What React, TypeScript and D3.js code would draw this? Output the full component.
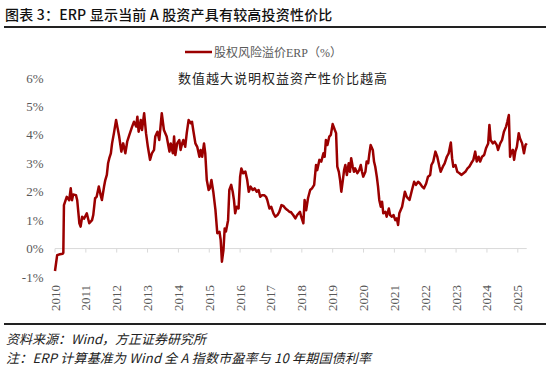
import React from "react";
import * as d3 from "d3";

const title = "图表 3：ERP 显示当前 A 股资产具有较高投资性价比";
const legendLabel = "股权风险溢价ERP（%）";
const annotation = "数值越大说明权益资产性价比越高";
const sourceText = "资料来源：Wind，方正证券研究所";
const noteText = "注：ERP 计算基准为 Wind 全 A 指数市盈率与 10 年期国债利率";

const yearTicks = [2010, 2011, 2012, 2013, 2014, 2015, 2016, 2017, 2018, 2019, 2020, 2021, 2022, 2023, 2024, 2025];
const yTicks = [-1, 0, 1, 2, 3, 4, 5, 6];

// decimal year
const dates = [
  2010.00, 2010.07, 2010.16, 2010.25, 2010.27, 2010.29, 2010.38, 2010.46, 2010.51, 2010.55,
  2010.59, 2010.68, 2010.72, 2010.79, 2010.83, 2010.88, 2010.94, 2011.03, 2011.11, 2011.20,
  2011.24, 2011.30, 2011.35, 2011.42, 2011.48, 2011.52, 2011.59, 2011.63, 2011.68, 2011.72,
  2011.76, 2011.81, 2011.85, 2011.91, 2011.98, 2012.02, 2012.08, 2012.15, 2012.21, 2012.28,
  2012.34, 2012.41, 2012.50, 2012.56, 2012.63, 2012.67, 2012.71, 2012.78, 2012.82, 2012.89,
  2012.95, 2013.01, 2013.08, 2013.14, 2013.21, 2013.25, 2013.32, 2013.38, 2013.46, 2013.53,
  2013.62, 2013.71, 2013.75, 2013.82, 2013.86, 2013.90, 2013.96, 2014.03, 2014.07, 2014.12,
  2014.16, 2014.22, 2014.27, 2014.33, 2014.40, 2014.44, 2014.48, 2014.55, 2014.61, 2014.68,
  2014.72, 2014.77, 2014.83, 2014.87, 2014.92, 2014.98, 2015.02, 2015.07, 2015.13, 2015.20,
  2015.26, 2015.33, 2015.37, 2015.41, 2015.46, 2015.50, 2015.54, 2015.61, 2015.65, 2015.71,
  2015.76, 2015.80, 2015.84, 2015.89, 2015.95, 2016.00, 2016.04, 2016.10, 2016.17, 2016.23,
  2016.28, 2016.34, 2016.41, 2016.47, 2016.54, 2016.60, 2016.65, 2016.71, 2016.78, 2016.84,
  2016.88, 2016.95, 2017.01, 2017.08, 2017.14, 2017.21, 2017.27, 2017.34, 2017.40, 2017.47,
  2017.53, 2017.60, 2017.64, 2017.72, 2017.79, 2017.85, 2017.94, 2017.98, 2018.05, 2018.09,
  2018.14, 2018.20, 2018.27, 2018.33, 2018.40, 2018.46, 2018.50, 2018.57, 2018.63, 2018.70,
  2018.74, 2018.78, 2018.83, 2018.89, 2018.94, 2019.00, 2019.07, 2019.11, 2019.15, 2019.20,
  2019.24, 2019.28, 2019.33, 2019.37, 2019.41, 2019.46, 2019.52, 2019.56, 2019.60, 2019.65,
  2019.69, 2019.73, 2019.80, 2019.86, 2019.91, 2019.95, 2019.99, 2020.06, 2020.10, 2020.15,
  2020.19, 2020.23, 2020.30, 2020.34, 2020.38, 2020.43, 2020.47, 2020.51, 2020.56, 2020.60,
  2020.64, 2020.71, 2020.75, 2020.82, 2020.86, 2020.92, 2020.97, 2021.03, 2021.08, 2021.12,
  2021.16, 2021.25, 2021.34, 2021.40, 2021.49, 2021.57, 2021.64, 2021.70, 2021.77, 2021.83,
  2021.90, 2021.96, 2022.03, 2022.09, 2022.16, 2022.20, 2022.26, 2022.33, 2022.39, 2022.46,
  2022.50, 2022.57, 2022.63, 2022.70, 2022.76, 2022.83, 2022.87, 2022.91, 2022.98, 2023.04,
  2023.11, 2023.17, 2023.24, 2023.30, 2023.37, 2023.43, 2023.49, 2023.56, 2023.62, 2023.67,
  2023.73, 2023.78, 2023.84, 2023.91, 2023.97, 2024.04, 2024.08, 2024.12, 2024.19, 2024.25,
  2024.32, 2024.36, 2024.43, 2024.49, 2024.55, 2024.62, 2024.66, 2024.71, 2024.75, 2024.79,
  2024.84, 2024.88, 2024.92, 2024.97, 2025.03, 2025.07, 2025.14, 2025.20, 2025.25, 2025.29,
];

// ERP, %
const erp = [
  -0.79, -0.23, -0.20, -0.18, -0.15, 1.53, 1.82, 1.70, 2.12, 1.70,
  1.90, 1.88, 1.70, 0.89, 0.77, 1.12, 1.05, 1.24, 0.89, 1.00,
  1.18, 1.77, 1.82, 2.18, 1.88, 1.71, 2.18, 2.41, 2.59, 3.00,
  3.18, 3.35, 3.70, 4.06, 4.52, 4.29, 3.94, 3.41, 3.70, 3.35,
  3.76, 4.00, 4.29, 4.46, 4.29, 4.64, 4.11, 4.52, 4.17, 4.76,
  4.06, 3.58, 3.12, 3.35, 3.47, 3.94, 4.11, 3.82, 4.76, 4.17,
  3.94, 3.41, 3.70, 3.35, 3.94, 3.29, 3.70, 3.82, 3.47, 3.70,
  3.82, 3.58, 4.06, 4.52, 4.41, 4.46, 4.17, 3.70, 3.58, 3.23,
  3.47, 3.23, 3.70, 3.35, 2.41, 2.06, 2.12, 2.41, 2.00, 1.36,
  0.54, 0.59, 0.30, -0.46, -0.05, 0.71, 0.60, 1.00, 2.06, 2.24,
  2.00, 1.71, 1.24, 1.47, 1.41, 2.53, 2.82, 2.65, 2.71, 2.41,
  2.00, 2.18, 2.06, 2.12, 2.00, 2.06, 1.82, 1.88, 1.88, 1.82,
  1.71, 1.41, 1.47, 1.24, 1.12, 1.18, 1.29, 1.53, 1.50, 1.41,
  1.36, 1.29, 1.29, 1.18, 1.06, 1.18, 1.29, 1.12, 0.89, 1.71,
  1.35, 1.77, 2.06, 2.12, 2.24, 2.94, 2.76, 3.12, 3.06, 3.35,
  3.23, 3.82, 3.64, 3.94, 4.00, 4.38, 4.17, 4.06, 2.88, 2.70,
  2.41, 2.00, 2.41, 2.76, 2.94, 2.59, 3.00, 2.70, 3.18, 2.88,
  2.70, 2.82, 2.65, 2.76, 2.94, 2.70, 2.53, 2.70, 3.06, 3.00,
  3.35, 3.64, 3.47, 3.06, 2.88, 2.53, 2.18, 1.71, 1.47, 1.65,
  1.24, 1.29, 1.12, 1.41, 1.18, 1.12, 1.18, 1.00, 1.06, 0.83,
  1.24, 1.47, 2.00, 1.82, 1.71, 2.06, 2.35, 2.24, 2.35, 2.29,
  2.18, 2.12, 2.29, 2.53, 2.59, 2.94, 3.06, 3.41, 3.23, 2.88,
  2.70, 2.88, 3.00, 3.23, 3.35, 3.73, 3.18, 2.88, 2.94, 2.70,
  2.65, 2.59, 2.65, 2.70, 2.82, 2.88, 3.00, 3.12, 3.41, 3.06,
  3.23, 3.06, 3.23, 3.29, 3.53, 3.70, 4.35, 3.82, 3.70, 3.76,
  3.64, 3.47, 3.70, 3.82, 4.11, 4.29, 4.46, 4.70, 3.23, 3.41,
  3.47, 3.12, 3.41, 3.58, 4.06, 3.88, 3.70, 3.35, 3.64, 3.70,
];

const W = 550;
const H = 376;
const serif = '"Liberation Serif", "Times New Roman", "Noto Sans CJK SC", serif';
const cjk = '"Noto Sans CJK SC", "Noto Sans", sans-serif';
const gray = "#595959";
const lineColor = "#9b0000";

export default function App() {
  const x = d3.scaleLinear().domain([2010, 2025]).range([55, 517.8]);
  const y = d3.scaleLinear().domain([-1, 6]).range([277, 78]);
  const pts: [number, number][] = dates.map((d, i) => [d, erp[i]]);
  const line = d3
    .line<[number, number]>()
    .x((d) => x(d[0]))
    .y((d) => y(d[1]));
  const axisEnd = x(dates[dates.length - 1]);

  return (
    <svg
      width={W}
      height={H}
      style={{ position: "absolute", left: 0, top: 0, background: "#fff" }}
    >
      <rect x={0} y={0} width={W} height={H} fill="#fff" />
      {/* title */}
      <text x={5} y={20} fontFamily={cjk} fontSize={14} fontWeight={500} letterSpacing={0.2} fill="#111">
        {title}
      </text>
      <line x1={4} x2={546} y1={27} y2={27} stroke="#222" strokeWidth={2} />

      {/* legend */}
      <line x1={185} x2={212} y1={52} y2={52} stroke={lineColor} strokeWidth={2.5} />
      <text x={214} y={56.5} fontFamily={serif} fontSize={12} fill={gray}>
        {legendLabel}
      </text>

      {/* annotation */}
      <text x={178} y={83} fontFamily={cjk} fontSize={13} letterSpacing={1} fill="#222">
        {annotation}
      </text>

      {/* y axis labels */}
      {yTicks.map((t) => (
        <text
          key={t}
          x={43.5}
          y={y(t)}
          dy="0.35em"
          textAnchor="end"
          fontFamily={serif}
          fontSize={13}
          fill={gray}
        >
          {`${t}%`}
        </text>
      ))}

      {/* zero axis */}
      <line x1={x(2010)} x2={axisEnd} y1={y(0)} y2={y(0)} stroke="#d9d9d9" strokeWidth={1} />
      {yearTicks.map((t) => (
        <line key={t} x1={x(t)} x2={x(t)} y1={y(0)} y2={y(0) + 4} stroke="#d9d9d9" strokeWidth={1} />
      ))}
      {yearTicks.map((t) => (
        <text
          key={"l" + t}
          transform={`translate(${x(t) + 4.5},${y(-1) + 8}) rotate(-90)`}
          textAnchor="end"
          fontFamily={serif}
          fontSize={13}
          fill={gray}
        >
          {t}
        </text>
      ))}

      {/* series */}
      <path d={line(pts) || ""} fill="none" stroke={lineColor} strokeWidth={2.5} strokeLinejoin="round" />

      {/* footer */}
      <line x1={4} x2={546} y1={324} y2={324} stroke="#222" strokeWidth={2} />
      <text x={6} y={344} fontFamily={cjk} fontSize={13} fontStyle="italic" fill="#222">
        {sourceText}
      </text>
      <text x={6} y={363} fontFamily={cjk} fontSize={13} fontStyle="italic" letterSpacing={0.2} fill="#222">
        {noteText}
      </text>
    </svg>
  );
}
